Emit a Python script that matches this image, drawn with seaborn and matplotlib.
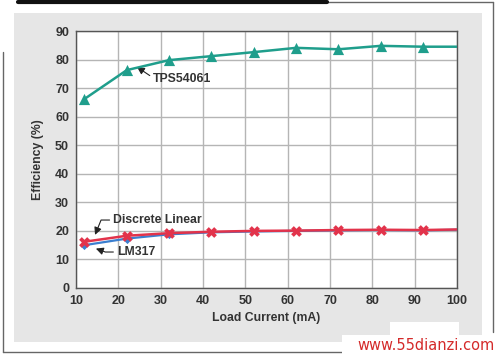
import numpy as np
import pandas as pd
import seaborn as sns
import matplotlib.pyplot as plt
from matplotlib.patches import Rectangle
from matplotlib.lines import Line2D

# ================= DATA =================
load_ma = [12, 22, 32, 42, 52, 62, 72, 82, 92, 100]
tps54061 = [66.2, 76.3, 79.8, 81.2, 82.6, 84.1, 83.6, 84.8, 84.5, 84.5]
discrete_linear = [16.2, 18.3, 19.2, 19.7, 20.0, 20.1, 20.3, 20.4, 20.3, 20.5]
lm317 = [15.0, 17.3, 18.8, 19.5, 19.8, 20.0, 20.2, 20.3, 20.2, 20.4]
# ========================================

TEAL = '#1f9e8c'
RED = '#e2334b'
BLUE = '#3b7fcf'

df = pd.DataFrame({'x': load_ma, 'tps': tps54061, 'disc': discrete_linear, 'lm': lm317})
mk = df.iloc[:-1]  # last point is only the line end, no marker

sns.set_theme(style="white")
plt.rcParams['font.family'] = ['Liberation Sans', 'DejaVu Sans']

fig = plt.figure(figsize=(5.0, 3.58), dpi=100)
W, H = 500, 358

def fx(px):
    return px / W

def fy(py):
    return 1 - py / H

# grey panel behind the chart
fig.patches.append(Rectangle((fx(14), fy(342)), fx(482) - fx(14), fy(13) - fy(342),
                             transform=fig.transFigure, facecolor='#e6e6e6', edgecolor='none', zorder=-2))
# outer frame
frame = dict(transform=fig.transFigure, color='#666666', lw=1.0, zorder=-1)
fig.lines.append(Line2D([fx(3), fx(3)], [fy(52), fy(352)], **frame))
fig.lines.append(Line2D([fx(3), fx(342)], [fy(352), fy(352)], **frame))
fig.lines.append(Line2D([fx(493), fx(493)], [fy(2), fy(332)], **frame))
fig.lines.append(Line2D([fx(320), fx(493)], [fy(2), fy(2)], **frame))
fig.lines.append(Line2D([fx(18), fx(327)], [fy(1.5), fy(1.5)], transform=fig.transFigure,
                        color='#111111', lw=3.0, solid_capstyle='round', zorder=-1))

ax = fig.add_axes([fx(76), fy(288), fx(457) - fx(76), fy(31) - fy(288)])
ax.set_zorder(1)
ax.set_facecolor('white')

sns.lineplot(data=df, x='x', y='lm', color=BLUE, lw=1.6, ax=ax, zorder=3)
sns.scatterplot(data=mk.iloc[:3], x='x', y='lm', color=BLUE, marker='D', s=22,
                edgecolor=BLUE, linewidth=0, ax=ax, zorder=3)
sns.lineplot(data=df, x='x', y='disc', color=RED, lw=1.8, ax=ax, zorder=4)
sns.scatterplot(data=mk, x='x', y='disc', color=RED, marker='X', s=60,
                edgecolor=RED, linewidth=0, ax=ax, zorder=4)
sns.lineplot(data=df, x='x', y='tps', color=TEAL, lw=1.8, ax=ax, zorder=4)
sns.scatterplot(data=mk, x='x', y='tps', color=TEAL, marker='^', s=65,
                edgecolor=TEAL, linewidth=0, ax=ax, zorder=4)

ax.set_xlim(10, 100)
ax.set_ylim(0, 90)
ax.set_xticks(np.arange(10, 101, 10))
ax.set_yticks(np.arange(0, 91, 10))
ax.grid(True, color='#b5b5b5', lw=1.0)
ax.set_axisbelow(True)
for s in ax.spines.values():
    s.set_color('#555555')
    s.set_linewidth(1.0)
ax.tick_params(axis='both', length=3, width=0.8, color='#777777', direction='out',
               labelsize=9, labelcolor='#333333', pad=2)
for lbl in ax.get_xticklabels() + ax.get_yticklabels():
    lbl.set_fontweight('bold')

ax.set_xlabel('Load Current (mA)', fontsize=8.8, fontweight='bold', color='#333333', labelpad=4)
ax.set_ylabel('Efficiency (%)', fontsize=8.8, fontweight='bold', color='#333333', labelpad=8)

# annotations
arrow = dict(arrowstyle='-|>,head_length=0.5,head_width=0.25', color='#222222', lw=0.8, shrinkA=0, shrinkB=0)
ax.annotate('TPS54061', xy=(24.4, 77.4), xytext=(28.2, 73.2), fontsize=8.8, fontweight='bold',
            color='#333333', va='center', ha='left',
            arrowprops=dict(arrow, relpos=(0, 0.6)))
ax.annotate('Discrete Linear', xy=(14.5, 18.6), xytext=(18.7, 23.8), fontsize=8.8, fontweight='bold',
            color='#333333', va='center', ha='left',
            arrowprops=dict(arrow, relpos=(0, 0.5), connectionstyle='angle,angleA=0,angleB=68,rad=0'))
ax.annotate('LM317', xy=(14.7, 13.8), xytext=(19.6, 12.6), fontsize=8.8, fontweight='bold',
            color='#333333', va='center', ha='left',
            arrowprops=dict(arrow, relpos=(0, 0.5),
                            connectionstyle='angle,angleA=0,angleB=160,rad=0'))

# watermark
fig.patches.append(Rectangle((fx(390), fy(335)), fx(459) - fx(390), fy(322) - fy(335),
                             transform=fig.transFigure, facecolor='white', edgecolor='none', zorder=2))
fig.patches.append(Rectangle((fx(342), fy(358)), fx(500) - fx(342), fy(335) - fy(358),
                             transform=fig.transFigure, facecolor='white', edgecolor='none', zorder=2))
fig.text(fx(495), fy(346), 'www.55dianzi.com', color='#d42a2a', fontsize=10.5, ha='right', va='center',
         family=['DejaVu Sans'], zorder=3)

fig.savefig('out.png', dpi=100)
